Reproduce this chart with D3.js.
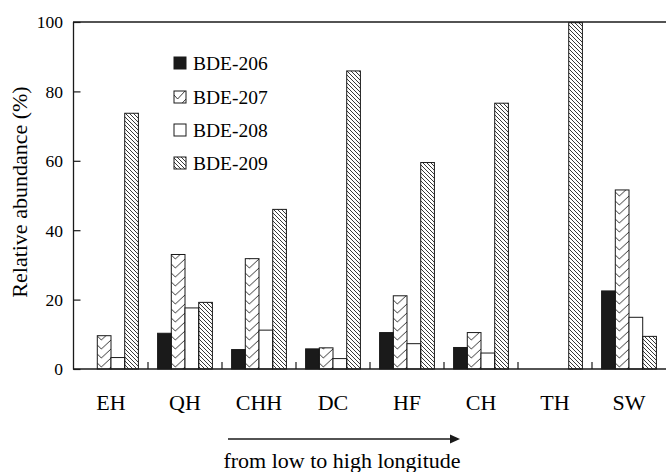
<!DOCTYPE html>
<html>
<head>
<meta charset="utf-8">
<script src="https://cdn.jsdelivr.net/npm/d3@7"></script>
<style>
  html, body { margin: 0; padding: 0; background: #fff; }
  svg { display: block; }
</style>
</head>
<body>
<svg id="chart" width="666" height="472"></svg>
<script>
// ---- data ----
const categories = ["EH", "QH", "CHH", "DC", "HF", "CH", "TH", "SW"];
const series = ["BDE-206", "BDE-207", "BDE-208", "BDE-209"];
const bde206 = [0, 10.3, 5.6, 5.8, 10.5, 6.2, 0, 22.5];
const bde207 = [9.6, 33, 31.8, 6.1, 21.1, 10.5, 0, 51.6];
const bde208 = [3.3, 17.6, 11.2, 3.0, 7.3, 4.6, 0, 14.9];
const bde209 = [73.7, 19.2, 46.0, 85.9, 59.5, 76.6, 99.8, 9.4];
const yTicks = [0, 20, 40, 60, 80, 100];
const yTitle = "Relative abundance (%)";
const xNote = "from low to high longitude";

const values = [bde206, bde207, bde208, bde209];

// ---- layout ----
const FONT = "Liberation Serif, Times New Roman, serif";
const INK = "#1a1a1a";
const svg = d3.select("#chart");
const X0 = 74, X1 = 666, Y0 = 22, Y1 = 369;

const x = d3.scaleBand().domain(categories).range([X0, X1]).paddingInner(0).paddingOuter(0);
const xi = d3.scaleBand().domain(series).range([0, x.bandwidth()]).paddingInner(0).paddingOuter(0.7);
const y = d3.scaleLinear().domain([0, 100]).range([Y1, Y0]);

const defs = svg.append("defs");

// dense backslash hatch for BDE-209
const p209 = defs.append("pattern").attr("id", "hatch209")
  .attr("patternUnits", "userSpaceOnUse").attr("width", 4).attr("height", 4);
p209.append("path").attr("d", "M0,0 L4,4 M-1,3 L1,5 M3,-1 L5,1")
  .attr("stroke", "#222").attr("stroke-width", 0.9).attr("fill", "none");

// check-mark (zigzag) hatch for BDE-207, aligned to each bar
function makeCheckPattern(id, px, py, w, h) {
  const p = defs.append("pattern").attr("id", id)
    .attr("patternUnits", "userSpaceOnUse")
    .attr("x", px).attr("y", py).attr("width", w).attr("height", h);
  const a = 0.3 * w;
  const d = [-h, 0, h].map(o =>
    `M0,${3 + o} L${a},${7 + o} L${w},${-2 + o}`).join(" ");
  p.append("path").attr("d", d).attr("stroke", "#222").attr("stroke-width", 0.9).attr("fill", "none");
  return `url(#${id})`;
}

const fills = [INK, null, "#fff", "url(#hatch209)"];

// ---- bars ----
const rows = [];
categories.forEach((c, ci) => {
  series.forEach((s, si) => {
    rows.push({ c, ci, s, si, v: values[si][ci] });
  });
});

svg.append("g").selectAll("rect.bar")
  .data(rows.filter(d => d.v > 0))
  .join("rect")
  .attr("class", "bar")
  .attr("x", d => x(d.c) + xi(d.s))
  .attr("y", d => y(d.v))
  .attr("width", xi.bandwidth())
  .attr("height", d => y(0) - y(d.v))
  .attr("fill", d => d.si === 1
    ? makeCheckPattern("chk" + d.ci, x(d.c) + xi(d.s), Y1, xi.bandwidth(), 9)
    : fills[d.si])
  .attr("stroke", INK)
  .attr("stroke-width", 1);

// ---- axes frame ----
const frame = svg.append("g").attr("stroke", INK).attr("stroke-width", 1.3).attr("fill", "none");
frame.append("line").attr("x1", X0 - 0.5).attr("x2", X0 - 0.5).attr("y1", Y0).attr("y2", Y1 + 0.6);
frame.append("line").attr("x1", X0 - 1).attr("x2", X1).attr("y1", Y0).attr("y2", Y0);
frame.append("line").attr("x1", X0 - 1).attr("x2", X1).attr("y1", Y1).attr("y2", Y1);

// y ticks (inward)
const yAxis = d3.axisLeft(y).tickValues(yTicks).tickSizeInner(-7).tickSizeOuter(0).tickPadding(10.5);
const ya = svg.append("g").attr("transform", `translate(${X0 - 0.5},0)`).call(yAxis)
  .attr("font-family", FONT).attr("font-size", 17.5);
ya.select(".domain").remove();
ya.selectAll(".tick line").attr("stroke", INK).attr("stroke-width", 1.2);
ya.selectAll(".tick text").attr("fill", "#000").attr("dy", "0.34em");

// x category labels
const xAxis = d3.axisBottom(x).tickSize(0).tickPadding(41);
const xa = svg.append("g").attr("transform", `translate(0,${Y1})`).call(xAxis)
  .attr("font-family", FONT).attr("font-size", 22);
xa.select(".domain").remove();
xa.selectAll(".tick text").attr("fill", "#000").attr("dy", 0);

// separators between groups (upward ticks)
svg.append("g").selectAll("line.sep")
  .data(categories.slice(1))
  .join("line")
  .attr("x1", d => x(d)).attr("x2", d => x(d))
  .attr("y1", Y1).attr("y2", Y1 - 7)
  .attr("stroke", INK).attr("stroke-width", 1.2);

// y title
svg.append("text")
  .attr("transform", `translate(27,192) rotate(-90)`)
  .attr("text-anchor", "middle")
  .attr("font-family", FONT).attr("font-size", 22).attr("fill", "#000")
  .text(yTitle);

// ---- legend ----
const legY = [63, 97, 130, 163];
series.forEach((s, i) => {
  const lx = 174, ly = legY[i] - 6;
  let f = fills[i];
  if (i === 1) f = makeCheckPattern("chkLeg", lx, ly + 1, 12, 9);
  svg.append("rect").attr("x", lx).attr("y", ly).attr("width", 12).attr("height", 12)
    .attr("fill", f).attr("stroke", INK).attr("stroke-width", 1);
  svg.append("text").attr("x", 193).attr("y", legY[i] + 6.5)
    .attr("font-family", FONT).attr("font-size", 19.5).attr("fill", "#000")
    .text(s);
});

// ---- arrow and note ----
svg.append("line").attr("x1", 228).attr("x2", 452).attr("y1", 439).attr("y2", 439)
  .attr("stroke", INK).attr("stroke-width", 1.3);
svg.append("path").attr("d", "M450,434.5 L460,439 L450,443.5 Z").attr("fill", INK);
svg.append("text").attr("x", 342).attr("y", 468).attr("text-anchor", "middle")
  .attr("font-family", FONT).attr("font-size", 22).attr("fill", "#000")
  .text(xNote);
</script>
</body>
</html>
